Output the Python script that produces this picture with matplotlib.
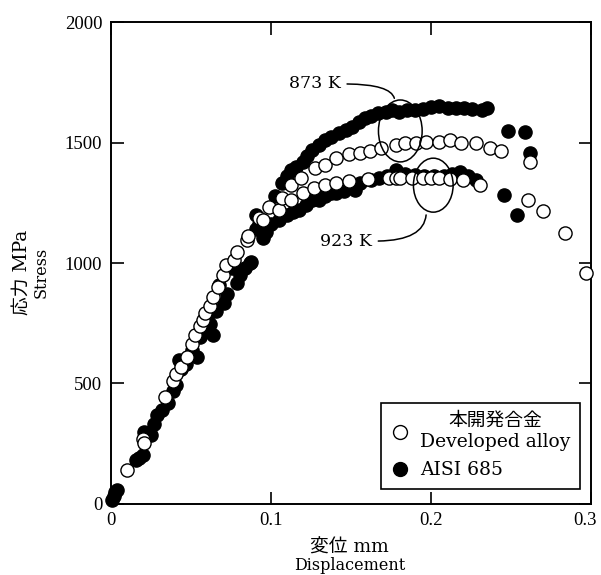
"""Stress-displacement curves: developed alloy vs AISI 685 at 873 K / 923 K."""

import matplotlib
matplotlib.use('Agg')
import matplotlib.pyplot as plt
from matplotlib.patches import Ellipse, FancyArrowPatch
from matplotlib.lines import Line2D
from matplotlib.transforms import ScaledTranslation

SERIF = ['DejaVu Serif', 'Noto Sans CJK JP']
plt.rcParams['font.family'] = SERIF

# ── data ─────────────────────────────────────────────────────────────────────

dev_x = [0.010, 0.020, 0.021, 0.034, 0.039, 0.041, 0.044, 0.048, 0.051, 0.053,
         0.056, 0.058, 0.059, 0.062, 0.064, 0.067, 0.070, 0.072, 0.077, 0.079,
         0.085, 0.086, 0.093, 0.095, 0.099, 0.105, 0.107, 0.113, 0.113, 0.119,
         0.120, 0.128, 0.127, 0.134, 0.141, 0.134, 0.141, 0.149, 0.156, 0.149,
         0.162, 0.169, 0.161, 0.178, 0.174, 0.178, 0.184, 0.191, 0.197, 0.205,
         0.212, 0.219, 0.228, 0.237, 0.244, 0.262, 0.181, 0.188, 0.195, 0.200,
         0.205, 0.212, 0.220, 0.231, 0.261, 0.270, 0.284, 0.297]
dev_y = [141, 270, 255, 444, 510, 540, 569, 610, 664, 700,
         740, 764, 793, 820, 859, 900, 950, 990, 1012, 1046,
         1095, 1110, 1187, 1180, 1232, 1220, 1270, 1324, 1261, 1353,
         1290, 1394, 1311, 1407, 1436, 1324, 1332, 1452, 1457, 1340,
         1465, 1477, 1349, 1490, 1353, 1353, 1498, 1498, 1502, 1502,
         1510, 1498, 1498, 1477, 1465, 1419, 1353, 1353, 1353, 1353,
         1353, 1349, 1345, 1324, 1261, 1216, 1124, 958]

aisi_x = [0.001, 0.002, 0.004, 0.003, 0.016, 0.018, 0.020, 0.021, 0.025, 0.027,
          0.029, 0.032, 0.036, 0.039, 0.041, 0.043, 0.044, 0.047, 0.051, 0.054,
          0.056, 0.058, 0.060, 0.064, 0.062, 0.066, 0.068, 0.071, 0.073, 0.076,
          0.079, 0.081, 0.084, 0.088, 0.087, 0.091, 0.093, 0.095, 0.091, 0.097,
          0.103, 0.107, 0.110, 0.113, 0.116, 0.120, 0.123, 0.126, 0.130, 0.134,
          0.138, 0.143, 0.147, 0.151, 0.155, 0.159, 0.163, 0.167, 0.172, 0.176,
          0.180, 0.185, 0.190, 0.195, 0.200, 0.205, 0.211, 0.216, 0.221, 0.226,
          0.232, 0.235, 0.248, 0.259, 0.262,
          0.100, 0.105, 0.110, 0.114, 0.118, 0.122, 0.126, 0.130, 0.134, 0.138,
          0.141, 0.146, 0.153, 0.156, 0.163, 0.168, 0.173, 0.178, 0.184, 0.190,
          0.196, 0.202, 0.208, 0.213, 0.218, 0.223, 0.228, 0.246, 0.254]
aisi_y = [17, 35, 58, 50, 183, 190, 203, 299, 286, 330,
          369, 390, 419, 470, 494, 598, 560, 580, 640, 610,
          693, 720, 772, 701, 745, 800, 909, 834, 870, 979,
          917, 950, 980, 1004, 1000, 1140, 1160, 1104, 1199, 1130,
          1280, 1330, 1360, 1386, 1400, 1419, 1445, 1469, 1490, 1510,
          1523, 1539, 1550, 1564, 1585, 1602, 1610, 1622, 1628, 1635,
          1627, 1633, 1635, 1640, 1647, 1650, 1643, 1645, 1643, 1640,
          1635, 1643, 1548, 1543, 1456,
          1160, 1180, 1199, 1210, 1220, 1240, 1261, 1261, 1280, 1290,
          1290, 1300, 1303, 1332, 1345, 1353, 1360, 1386, 1370, 1365,
          1360, 1360, 1362, 1370, 1378, 1360, 1345, 1282, 1199]

x_ticks = [0, 0.1, 0.2, 0.3]
x_labels = ['0', '0.1', '0.2', '0.3']
y_ticks = [0, 500, 1000, 1500, 2000]
y_labels = ['0', '500', '1000', '1500', '2000']

# ── figure ───────────────────────────────────────────────────────────────────

fig = plt.figure(figsize=(6.01, 5.75), dpi=100)
ax = fig.add_axes([0.184, 0.1235, 0.799, 0.8382])

ax.scatter(aisi_x, aisi_y, s=90, facecolor='black', edgecolor='black',
           linewidth=1.0, zorder=3, clip_on=False)
ax.scatter(dev_x, dev_y, s=90, facecolor='white', edgecolor='black',
           linewidth=1.0, zorder=4, clip_on=False)

ax.set_xlim(0, 0.3)
ax.set_ylim(0, 2000)
ax.set_xticks(x_ticks)
ax.set_xticklabels(x_labels, family='Liberation Serif')
ax.set_yticks(y_ticks)
ax.set_yticklabels(y_labels, family='Liberation Serif')
ax.tick_params(direction='in', length=9, width=1.2, labelsize=13.5,
               top=True, right=True, pad=6)
for sp in ax.spines.values():
    sp.set_linewidth(1.4)

# keep the last x label inside the canvas
last = ax.get_xticklabels()[-1]
last.set_transform(last.get_transform()
                   + ScaledTranslation(-4 / 72, 0, fig.dpi_scale_trans))

# temperature callouts
ax.add_patch(Ellipse((0.181, 1548), 0.0273, 257, fill=False, lw=1.1,
                     ec='black', zorder=5))
ax.add_patch(Ellipse((0.2016, 1323), 0.0248, 224, fill=False, lw=1.1,
                     ec='black', zorder=5))
ax.add_patch(FancyArrowPatch((0.146, 1743), (0.1775, 1672), arrowstyle='-',
                             connectionstyle='angle3,angleA=0,angleB=90',
                             lw=1.1, color='black', zorder=5))
ax.add_patch(FancyArrowPatch((0.1655, 1091), (0.1972, 1211), arrowstyle='-',
                             connectionstyle='angle3,angleA=0,angleB=90',
                             lw=1.1, color='black', zorder=5))
ax.text(0.144, 1743, '873 K', ha='right', va='center', fontsize=12.5)
ax.text(0.1635, 1091, '923 K', ha='right', va='center', fontsize=12.5)

# legend
handles = [
    Line2D([], [], ls='none', marker='o', ms=10, mfc='white', mec='black', mew=1.0),
    Line2D([], [], ls='none', marker='o', ms=10, mfc='black', mec='black', mew=1.0),
]
leg = ax.legend(handles, ['本開発合金\nDeveloped alloy', 'AISI 685'],
                loc='lower right', bbox_to_anchor=(0.978, 0.032),
                fontsize=13.5, frameon=True, fancybox=False, edgecolor='black',
                handletextpad=0.6, borderpad=0.5, labelspacing=0.55,
                handlelength=1.0, borderaxespad=0)
leg.get_frame().set_linewidth(1.2)
leg.get_frame().set_alpha(1)
for t in leg.get_texts():
    t.set_multialignment('center')

# axis labels
fig.text(0.582, 0.047, '変位 mm', ha='center', va='center', fontsize=13.5,
         family=SERIF)
fig.text(0.582, 0.016, 'Displacement', ha='center', va='center', fontsize=11.5,
         family=SERIF)
fig.text(0.036, 0.527, '応力 MPa', ha='center', va='center', fontsize=13.5,
         rotation=90, family=SERIF)
fig.text(0.068, 0.527, 'Stress', ha='center', va='center', fontsize=11.5,
         rotation=90, family=SERIF)

fig.savefig('out.png', dpi=100)
print("out.png written")
